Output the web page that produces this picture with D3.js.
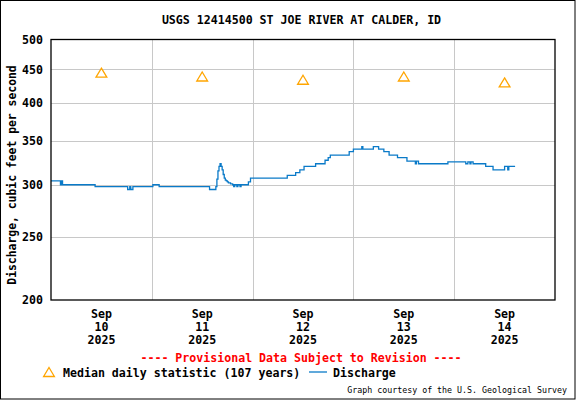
<!DOCTYPE html>
<html>
<head>
<meta charset="utf-8">
<script src="https://cdn.jsdelivr.net/npm/d3@7"></script>
<style>
  body { margin: 0; background: #fff; }
  svg text { font-family: "DejaVu Sans Mono", monospace; font-weight: bold; }
</style>
</head>
<body>
<div id="chart"></div>
<script>
// discharge readings, step changes only (cfs)
const dischargeTimes = [
  "09-10 00:00", "09-10 02:15", "09-10 02:30", "09-10 02:45", "09-10 10:30",
  "09-10 18:15", "09-10 18:45", "09-10 19:00", "09-10 19:30",
  "09-11 00:15", "09-11 01:45", "09-11 13:45", "09-11 15:15", "09-11 15:30",
  "09-11 15:45", "09-11 16:00", "09-11 16:15", "09-11 16:30", "09-11 16:45",
  "09-11 17:00", "09-11 17:15", "09-11 17:30", "09-11 17:45", "09-11 18:00",
  "09-11 18:15", "09-11 18:45", "09-11 19:15", "09-11 19:30", "09-11 19:45",
  "09-11 20:15", "09-11 20:30", "09-11 21:00", "09-11 21:15", "09-11 23:00",
  "09-11 23:30",
  "09-12 08:15", "09-12 10:15", "09-12 11:15", "09-12 12:15", "09-12 15:00",
  "09-12 17:15", "09-12 18:00", "09-12 18:30", "09-12 23:00",
  "09-13 00:00", "09-13 02:00", "09-13 02:15", "09-13 04:45", "09-13 06:00",
  "09-13 07:15", "09-13 08:30", "09-13 10:30", "09-13 12:45", "09-13 14:45",
  "09-13 15:00", "09-13 15:30", "09-13 22:30",
  "09-14 02:45", "09-14 03:15", "09-14 03:45", "09-14 04:00", "09-14 04:30",
  "09-14 07:30", "09-14 09:15", "09-14 12:00", "09-14 12:45", "09-14 13:00",
  "09-14 14:30"
];
const dischargeCfs = [
  304, 300, 304, 300, 298,
  295, 298, 295, 298,
  300, 298, 295, 298, 306,
  315, 320, 323, 320, 316,
  311, 307, 305, 304, 303,
  302, 301, 300, 298, 300,
  298, 300, 298, 300, 303,
  307,
  310, 313, 316, 320, 323,
  327, 330, 333, 337,
  340, 343, 340, 343, 340,
  337, 333, 330, 326, 323,
  326, 323, 325,
  323, 325, 323, 325, 323,
  320, 316, 320, 316, 320,
  320
];

// median daily statistic (107 years)
const medianDays = ["09-10", "09-11", "09-12", "09-13", "09-14"];
const medianCfs = [445, 439, 434, 439, 430];

const yTicks = [200, 250, 300, 350, 400, 450, 500];
const yGrid = [250, 300, 350, 400, 450];

const W = 576, H = 400;
const plot = {left: 51, right: 555, top: 39.5, bottom: 300};

const parseT = d3.timeParse("%Y-%m-%d %H:%M");
const t = s => parseT("2025-" + s);

const x = d3.scaleTime()
  .domain([t("09-10 00:00"), t("09-15 00:00")])
  .range([plot.left, plot.right]);

const y = d3.scaleLog()
  .domain([200, 500])
  .range([plot.bottom, plot.top]);

const svg = d3.select("#chart")
  .append("svg")
  .attr("width", W)
  .attr("height", H);

svg.append("rect")
  .attr("x", 0.5).attr("y", 0.5)
  .attr("width", W - 1.5).attr("height", H - 1.5)
  .attr("fill", "#fff")
  .attr("stroke", "#000");

// title
svg.append("text")
  .attr("x", 301.5).attr("y", 24)
  .attr("text-anchor", "middle")
  .style("font-size", "11.6px")
  .text("USGS 12414500 ST JOE RIVER AT CALDER, ID");

// horizontal grid
svg.append("g")
  .attr("transform", `translate(${plot.left},0)`)
  .call(d3.axisLeft(y).tickValues(yGrid).tickSize(-(plot.right - plot.left)).tickFormat(""))
  .call(g => g.select(".domain").remove())
  .call(g => g.selectAll("line").attr("stroke", "#c8c8c8").attr("shape-rendering", "crispEdges"));

// vertical grid at midnight
const midnights = ["09-11", "09-12", "09-13", "09-14"].map(d => t(d + " 00:00"));
svg.append("g")
  .attr("transform", `translate(0,${plot.bottom})`)
  .call(d3.axisBottom(x).tickValues(midnights).tickSize(-(plot.bottom - plot.top)).tickFormat(""))
  .call(g => g.select(".domain").remove())
  .call(g => g.selectAll("line").attr("stroke", "#c8c8c8").attr("shape-rendering", "crispEdges"));

// y tick labels
svg.append("g")
  .attr("transform", `translate(${plot.left},0)`)
  .call(d3.axisLeft(y).tickValues(yTicks).tickFormat(d3.format("d")).tickSize(0).tickPadding(8))
  .call(g => g.select(".domain").remove())
  .call(g => g.selectAll("text")
    .attr("fill", "#000")
    .style("font-size", "11.6px")
    .style("font-family", "DejaVu Sans Mono")
    .style("font-weight", "bold"));

// x tick labels at noon
const noons = medianDays.map(d => t(d + " 12:00"));
const fmtMon = d3.timeFormat("%b"), fmtDay = d3.timeFormat("%d"), fmtYr = d3.timeFormat("%Y");
svg.append("g")
  .attr("transform", `translate(0,${plot.bottom})`)
  .call(d3.axisBottom(x).tickValues(noons).tickSize(0).tickFormat(""))
  .call(g => g.select(".domain").remove())
  .call(g => g.selectAll(".tick").each(function(d) {
    const txt = d3.select(this).append("text")
      .attr("fill", "#000")
      .attr("text-anchor", "middle")
      .style("font-size", "11.6px")
      .style("font-family", "DejaVu Sans Mono")
      .style("font-weight", "bold");
    [fmtMon(d), fmtDay(d), fmtYr(d)].forEach((s, i) => {
      txt.append("tspan").attr("x", -0.5).attr("y", 18 + i * 13).text(s);
    });
  }));

// y axis title
svg.append("text")
  .attr("transform", "translate(16,175) rotate(-90)")
  .attr("text-anchor", "middle")
  .style("font-size", "11.4px")
  .text("Discharge, cubic feet per second");

// discharge line
const line = d3.line()
  .x((d, i) => x(t(dischargeTimes[i])))
  .y(d => y(d))
  .curve(d3.curveStepAfter);

svg.append("path")
  .datum(dischargeCfs)
  .attr("fill", "none")
  .attr("stroke", "#0a7ac8")
  .attr("stroke-width", 1.3)
  .attr("d", line);

// open triangle centred on its box, like the USGS marker
const boxTriangle = {
  draw(ctx, size) {
    const h = Math.sqrt(size) * 1.2, w = h * 1.2;
    ctx.moveTo(0, -h / 2);
    ctx.lineTo(w / 2, h / 2);
    ctx.lineTo(-w / 2, h / 2);
    ctx.closePath();
  }
};
const tri = d3.symbol().type(boxTriangle).size(56);

svg.selectAll(".median")
  .data(medianCfs)
  .join("path")
  .attr("class", "median")
  .attr("transform", (d, i) => `translate(${x(noons[i])},${y(d)})`)
  .attr("d", tri)
  .attr("fill", "none")
  .attr("stroke", "#ffa500")
  .attr("stroke-width", 1.3);

// plot frame
svg.append("rect")
  .attr("x", plot.left).attr("y", plot.top)
  .attr("width", plot.right - plot.left)
  .attr("height", plot.bottom - plot.top)
  .attr("fill", "none")
  .attr("stroke", "#000")
  .attr("stroke-width", 1.3);

// provisional notice
svg.append("text")
  .attr("x", 301).attr("y", 362)
  .attr("text-anchor", "middle")
  .attr("fill", "#ff0000")
  .style("font-size", "11.6px")
  .text("---- Provisional Data Subject to Revision ----");

// legend
svg.append("path")
  .attr("transform", "translate(49,372)")
  .attr("d", tri)
  .attr("fill", "none")
  .attr("stroke", "#ffa500")
  .attr("stroke-width", 1.3);
svg.append("text")
  .attr("x", 63).attr("y", 377)
  .style("font-size", "11.6px")
  .text("Median daily statistic (107 years)");
svg.append("line")
  .attr("x1", 309).attr("x2", 327)
  .attr("y1", 372).attr("y2", 372)
  .attr("stroke", "#0a7ac8")
  .attr("stroke-width", 1.3);
svg.append("text")
  .attr("x", 333).attr("y", 377)
  .style("font-size", "11.6px")
  .text("Discharge");

svg.append("text")
  .attr("x", 567).attr("y", 393)
  .attr("text-anchor", "end")
  .style("font-size", "8.3px")
  .style("font-weight", "normal")
  .text("Graph courtesy of the U.S. Geological Survey");
</script>
</body>
</html>
